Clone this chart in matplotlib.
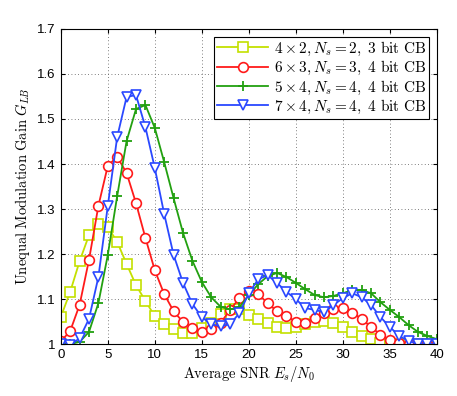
import matplotlib
matplotlib.use("Agg")
import matplotlib.pyplot as plt
import numpy as np

plt.rcParams['mathtext.fontset'] = 'cm'

snr = list(range(0, 41))

gain_4x2 = [1.060, 1.116, 1.184, 1.242, 1.267, 1.260, 1.227, 1.178, 1.131, 1.096,
            1.062, 1.044, 1.033, 1.024, 1.024, 1.035, 1.048, 1.066, 1.077, 1.079,
            1.065, 1.055, 1.046, 1.038, 1.036, 1.038, 1.044, 1.049, 1.051, 1.047,
            1.038, 1.027, 1.018, 1.011, 1.003, 1.000, 1.000, 1.000, 1.000, 1.000, 1.000]

gain_6x3 = [1.006, 1.029, 1.087, 1.187, 1.307, 1.396, 1.416, 1.380, 1.313, 1.236,
            1.164, 1.111, 1.073, 1.049, 1.036, 1.027, 1.033, 1.047, 1.076, 1.102,
            1.118, 1.111, 1.091, 1.073, 1.062, 1.050, 1.048, 1.059, 1.069, 1.077,
            1.080, 1.070, 1.056, 1.038, 1.021, 1.009, 1.002, 1.000, 1.000, 1.000, 1.000]

gain_5x4 = [1.000, 1.000, 1.005, 1.027, 1.091, 1.198, 1.329, 1.451, 1.522, 1.531,
            1.480, 1.404, 1.324, 1.247, 1.185, 1.138, 1.104, 1.083, 1.077, 1.082,
            1.109, 1.133, 1.151, 1.158, 1.149, 1.136, 1.122, 1.109, 1.104, 1.107,
            1.113, 1.120, 1.120, 1.113, 1.093, 1.076, 1.060, 1.042, 1.027, 1.018, 1.011]

gain_7x4 = [1.000, 0.998, 1.013, 1.056, 1.149, 1.307, 1.460, 1.549, 1.553, 1.482,
            1.391, 1.289, 1.198, 1.136, 1.089, 1.060, 1.044, 1.040, 1.044, 1.069,
            1.113, 1.144, 1.153, 1.136, 1.116, 1.100, 1.080, 1.076, 1.071, 1.087,
            1.102, 1.113, 1.104, 1.087, 1.060, 1.038, 1.018, 1.007, 1.000, 1.000, 1.000]

labels = [r'$4\times 2, N_s=2,\ \mathrm{3\ bit\ CB}$',
          r'$6\times 3, N_s=3,\ \mathrm{4\ bit\ CB}$',
          r'$5\times 4, N_s=4,\ \mathrm{4\ bit\ CB}$',
          r'$7\times 4, N_s=4,\ \mathrm{4\ bit\ CB}$']

xticks = [0, 5, 10, 15, 20, 25, 30, 35, 40]
yticks = [1.0, 1.1, 1.2, 1.3, 1.4, 1.5, 1.6, 1.7]
ytick_labels = ['1', '1.1', '1.2', '1.3', '1.4', '1.5', '1.6', '1.7']

colors = ['#c4e000', '#ff1a1a', '#22a010', '#2a48ff']
markers = ['s', 'o', '+', 'v']

fig = plt.figure(figsize=(4.57, 3.96), dpi=100)
ax = fig.add_axes([0.133, 0.131, 0.823, 0.796])

series = [gain_4x2, gain_6x3, gain_5x4, gain_7x4]
for vals, c, m, lab in zip(series, colors, markers, labels):
    if m == '+':
        ax.plot(snr, vals, color=c, marker=m, markersize=7, markeredgewidth=1.3,
                linewidth=1.3, label=lab)
    else:
        ax.plot(snr, vals, color=c, marker=m, markersize=6.5 if m != 'o' else 7,
                markerfacecolor='white', markeredgewidth=1.2,
                linewidth=1.3, label=lab)

ax.set_xlim(0, 40)
ax.set_ylim(1.0, 1.7)
ax.set_xticks(xticks)
ax.set_yticks(yticks)
ax.set_yticklabels(ytick_labels)
ax.tick_params(direction='in', top=True, right=True, labelsize=9.5, length=3,
               labelfontfamily='Liberation Sans')
ax.grid(True, linestyle=(0, (1, 3)), color='#555555', linewidth=0.6)

ax.set_xlabel(r'$\mathrm{Average\ SNR}\ E_s/N_0$', fontsize=10.5, labelpad=2)
ax.set_ylabel(r'$\mathrm{Unequal\ Modulation\ Gain}\ G_{LB}$', fontsize=10.5, labelpad=4)

leg = ax.legend(loc='upper right', fontsize=11, fancybox=False, edgecolor='black',
                framealpha=1, borderpad=0.2, labelspacing=0.08, handlelength=3.3,
                handletextpad=0.4, borderaxespad=0.5)
leg.get_frame().set_linewidth(0.8)

fig.savefig('out.png', dpi=100)
